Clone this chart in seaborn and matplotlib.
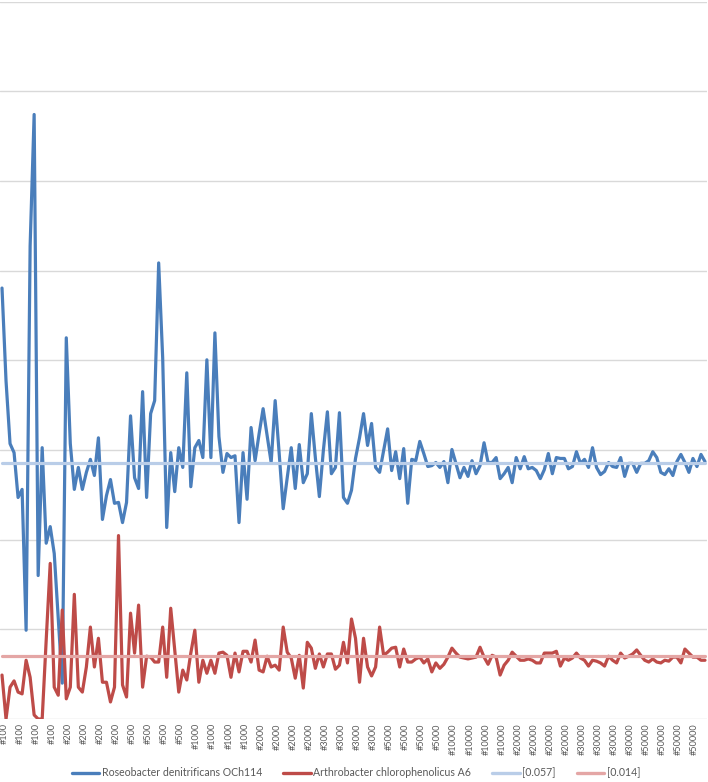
import numpy as np
import pandas as pd
import matplotlib
matplotlib.use("Agg")
import matplotlib.pyplot as plt
import matplotlib.transforms as mtransforms
from matplotlib.lines import Line2D
import seaborn as sns

# ---------------- data ----------------
groups = ["#100", "#200", "#500", "#1000", "#2000", "#3000", "#5000",
          "#10000", "#20000", "#30000", "#50000"]
tick_labels = [g for g in groups for _ in range(4)]   # one label every 4th sample

roseobacter = [
    0.0961, 0.0754, 0.0614, 0.0594, 0.0494, 0.0512, 0.0198, 0.1055, 0.1348, 0.0320,
    0.0605, 0.0392, 0.0429, 0.0369, 0.0223, 0.0080, 0.0850, 0.0614, 0.0512, 0.0561,
    0.0512, 0.0550, 0.0579, 0.0543, 0.0627, 0.0445, 0.0498, 0.0534, 0.0481, 0.0483,
    0.0438, 0.0483, 0.0676, 0.0538, 0.0514, 0.0730, 0.0494, 0.0681, 0.0710, 0.1017,
    0.0805, 0.0427, 0.0594, 0.0507, 0.0605, 0.0561, 0.0772, 0.0518, 0.0605, 0.0621,
    0.0583, 0.0801, 0.0583, 0.0861, 0.0630, 0.0550, 0.0592, 0.0583, 0.0587, 0.0438,
    0.0594, 0.0490, 0.0650, 0.0576, 0.0636, 0.0692, 0.0632, 0.0572, 0.0710, 0.0592,
    0.0469, 0.0538, 0.0605, 0.0514, 0.0612, 0.0527, 0.0547, 0.0681, 0.0583, 0.0496,
    0.0599, 0.0685, 0.0547, 0.0561, 0.0683, 0.0494, 0.0481, 0.0510, 0.0581, 0.0627,
    0.0681, 0.0610, 0.0659, 0.0561, 0.0550, 0.0599, 0.0647, 0.0554, 0.0596, 0.0536,
    0.0603, 0.0481, 0.0579, 0.0576, 0.0619, 0.0592, 0.0563, 0.0565, 0.0572, 0.0561,
    0.0574, 0.0527, 0.0601, 0.0570, 0.0538, 0.0561, 0.0541, 0.0576, 0.0547, 0.0565,
    0.0616, 0.0572, 0.0572, 0.0583, 0.0536, 0.0547, 0.0561, 0.0527, 0.0583, 0.0558,
    0.0585, 0.0558, 0.0561, 0.0554, 0.0536, 0.0556, 0.0592, 0.0547, 0.0583, 0.0581,
    0.0581, 0.0558, 0.0563, 0.0596, 0.0570, 0.0579, 0.0561, 0.0605, 0.0561, 0.0545,
    0.0552, 0.0572, 0.0563, 0.0561, 0.0583, 0.0541, 0.0570, 0.0570, 0.0550, 0.0570,
    0.0570, 0.0576, 0.0596, 0.0583, 0.0550, 0.0545, 0.0558, 0.0543, 0.0574, 0.0590,
    0.0572, 0.0550, 0.0581, 0.0563, 0.0590, 0.0574,
]

arthrobacter = [
    0.0098, 0.0000, 0.0071, 0.0085, 0.0060, 0.0056, 0.0131, 0.0093, 0.0009, 0.0000,
    0.0000, 0.0176, 0.0347, 0.0071, 0.0053, 0.0243, 0.0045, 0.0071, 0.0278, 0.0071,
    0.0060, 0.0116, 0.0205, 0.0116, 0.0180, 0.0082, 0.0082, 0.0038, 0.0071, 0.0409,
    0.0076, 0.0049, 0.0236, 0.0147, 0.0254, 0.0071, 0.0140, 0.0138, 0.0127, 0.0127,
    0.0205, 0.0093, 0.0247, 0.0154, 0.0060, 0.0109, 0.0087, 0.0147, 0.0198, 0.0082,
    0.0131, 0.0102, 0.0131, 0.0102, 0.0147, 0.0149, 0.0142, 0.0093, 0.0147, 0.0105,
    0.0151, 0.0151, 0.0127, 0.0176, 0.0109, 0.0105, 0.0140, 0.0116, 0.0120, 0.0109,
    0.0205, 0.0149, 0.0136, 0.0091, 0.0142, 0.0069, 0.0171, 0.0158, 0.0113, 0.0145,
    0.0116, 0.0145, 0.0145, 0.0111, 0.0120, 0.0171, 0.0125, 0.0223, 0.0180, 0.0082,
    0.0180, 0.0116, 0.0096, 0.0116, 0.0205, 0.0142, 0.0149, 0.0158, 0.0160, 0.0116,
    0.0156, 0.0127, 0.0127, 0.0134, 0.0138, 0.0125, 0.0134, 0.0105, 0.0125, 0.0113,
    0.0122, 0.0138, 0.0158, 0.0147, 0.0138, 0.0136, 0.0134, 0.0136, 0.0138, 0.0160,
    0.0138, 0.0122, 0.0142, 0.0138, 0.0098, 0.0120, 0.0131, 0.0149, 0.0140, 0.0131,
    0.0131, 0.0134, 0.0131, 0.0125, 0.0125, 0.0147, 0.0147, 0.0147, 0.0151, 0.0118,
    0.0136, 0.0131, 0.0136, 0.0147, 0.0136, 0.0131, 0.0118, 0.0131, 0.0129, 0.0125,
    0.0118, 0.0140, 0.0131, 0.0125, 0.0147, 0.0136, 0.0140, 0.0145, 0.0154, 0.0142,
    0.0131, 0.0127, 0.0134, 0.0127, 0.0125, 0.0131, 0.0129, 0.0138, 0.0138, 0.0125,
    0.0156, 0.0147, 0.0138, 0.0138, 0.0131, 0.0131,
]

mean_rose = 0.057
mean_arth = 0.014

series_names = ["Roseobacter denitrificans OCh114", "Arthrobacter chlorophenolicus A6",
                "[0.057]", "[0.014]"]
colors = ["#4A7EBB", "#BE4B48", "#B9CDE8", "#E4A6A5"]

# ---------------- plotting ----------------
sns.set_theme(style="white")
plt.rcParams["font.family"] = ["Lato", "DejaVu Sans"]

n = len(roseobacter)
idx = np.arange(n)
df = pd.DataFrame({
    "x": np.tile(idx, 4),
    "value": np.concatenate([roseobacter, arthrobacter,
                             np.full(n, mean_rose), np.full(n, mean_arth)]),
    "series": np.repeat(series_names, n),
})

W, H = 708, 782
fig = plt.figure(figsize=(W / 100, H / 100), dpi=100)
ax = fig.add_axes([0, 63 / H, 707 / W, 717.5 / H])

sns.lineplot(data=df, x="x", y="value", hue="series", hue_order=series_names,
             palette=colors, linewidth=2.3, ax=ax, legend=False, sort=False,
             estimator=None)

ax.set_xlim(-0.5, n - 0.5)
ax.set_ylim(0, 0.16)
ax.set_yticks(np.arange(0, 0.1601, 0.02))
ax.set_yticklabels([])
ax.yaxis.grid(True, color="#D9D9D9", linewidth=1.0)
ax.set_axisbelow(True)
for s in ax.spines.values():
    s.set_visible(False)

ax.set_xticks(idx[::4])
ax.set_xticklabels(tick_labels, rotation=90, fontsize=6.6, color="#595959")
ax.tick_params(axis="both", length=0, pad=3)
ax.tick_params(axis="y", left=False)
ax.set_xlabel("")
ax.set_ylabel("")
shift = mtransforms.ScaledTranslation(1.8 / 100, 0, fig.dpi_scale_trans)
for lab in ax.get_xticklabels():
    lab.set_transform(lab.get_transform() + shift)

handles = [Line2D([0], [0], color=c, lw=2.4) for c in colors]
fig.legend(handles, series_names, loc="center", bbox_to_anchor=(356 / W, 9 / H),
           ncol=4, frameon=False, fontsize=7.6, handlelength=2.6,
           handletextpad=0.25, columnspacing=2.0, labelcolor="#595959")

fig.savefig("out.png", dpi=100)
